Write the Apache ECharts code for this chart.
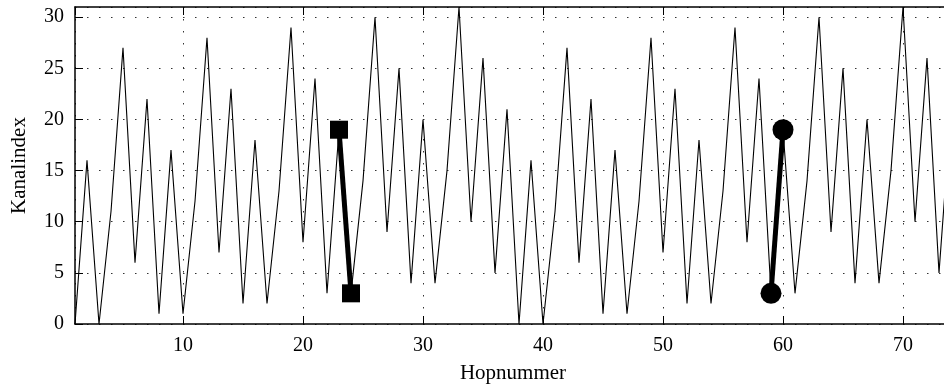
<!DOCTYPE html>
<html><head><meta charset="utf-8">
<script src="https://cdn.jsdelivr.net/npm/echarts@6/dist/echarts.min.js"></script>
<style>html,body{margin:0;padding:0;background:#fff}#c{width:944px;height:385px}</style>
</head><body><div id="c"></div>
<script>
const hops = [1,2,3,4,5,6,7,8,9,10,11,12,13,14,15,16,17,18,19,20,21,22,23,24,25,26,27,28,29,30,31,32,33,34,35,36,37,38,39,40,41,42,43,44,45,46,47,48,49,50,51,52,53,54,55,56,57,58,59,60,61,62,63,64,65,66,67,68,69,70,71,72,73,74];
const channels = [0,16,0,11,27,6,22,1,17,1,12,28,7,23,2,18,2,13,29,8,24,3,19,3,14,30,9,25,4,20,4,15,31,10,26,5,21,
                  0,16,0,11,27,6,22,1,17,1,12,28,7,23,2,18,2,13,29,8,24,3,19,3,14,30,9,25,4,20,4,15,31,10,26,5,21];
const squareHops = [23,24];
const squareChannels = [19,3];
const circleHops = [59,60];
const circleChannels = [3,19];
const xTitle = 'Hopnummer';
const yTitle = 'Kanalindex';

const FONT = 'Liberation Serif';
const pairs = (xs, ys) => xs.map((x,i)=>[x, ys[i]]);
const gridLine = {show:true, lineStyle:{color:'#333', width:1, type:[1.5,10.5]}};
const axLine = {show:true, onZero:false, lineStyle:{color:'#000', width:1.5}};
const tick = {show:true, inside:true, length:8, lineStyle:{color:'#000', width:1}};
const lab = {color:'#000', fontFamily:FONT, fontSize:20};
const XMAX = 74;

const chart = echarts.init(document.getElementById('c'), null, {renderer:'canvas'});
chart.setOption({
  animation:false,
  backgroundColor:'#fff',
  grid:{left:75, top:7, width:876, height:317, containLabel:false, outerBoundsMode:'none'},
  xAxis:[
    {type:'value', min:1, max:XMAX, splitNumber:7, position:'bottom',
     axisLine:axLine, axisTick:tick,
     axisLabel:Object.assign({showMinLabel:false, showMaxLabel:false, margin:12}, lab),
     splitLine:gridLine,
     name:xTitle, nameLocation:'middle', nameGap:39,
     nameTextStyle:{color:'#000', fontFamily:FONT, fontSize:21}},
    {type:'value', min:1, max:XMAX, splitNumber:7, position:'top',
     axisLine:axLine, axisTick:tick, axisLabel:{show:false}, splitLine:{show:false}}
  ],
  yAxis:[
    {type:'value', min:0, max:31, interval:5, position:'left',
     axisLine:axLine, axisTick:tick,
     axisLabel:Object.assign({showMaxLabel:false, margin:11}, lab),
     splitLine:gridLine,
     name:yTitle, nameLocation:'middle', nameGap:45,
     nameTextStyle:{color:'#000', fontFamily:FONT, fontSize:21}},
    {type:'value', min:0, max:31, interval:5, position:'right',
     axisLine:{show:false}, axisTick:{show:false}, axisLabel:{show:false}, splitLine:{show:false}}
  ],
  series:[
    {type:'line', data:pairs(hops, channels), symbol:'none',
     lineStyle:{color:'#000', width:1.1}, z:2},
    {type:'line', data:pairs(squareHops, squareChannels), symbol:'rect', symbolSize:18,
     lineStyle:{color:'#000', width:5}, itemStyle:{color:'#000'}, z:3},
    {type:'line', data:pairs(circleHops, circleChannels), symbol:'circle', symbolSize:21,
     lineStyle:{color:'#000', width:5}, itemStyle:{color:'#000'}, z:3}
  ]
});
</script>
</body></html>
